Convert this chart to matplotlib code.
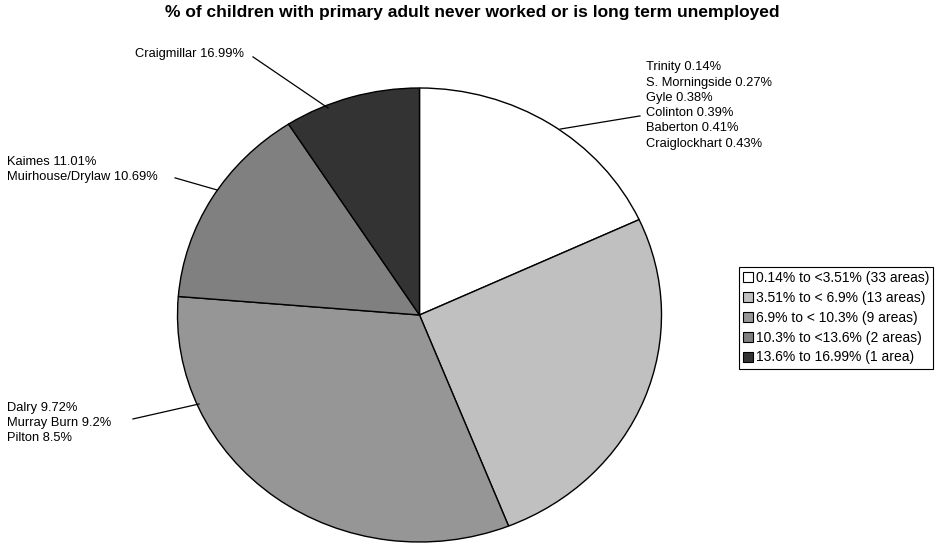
import matplotlib
matplotlib.use("Agg")
import matplotlib.pyplot as plt
from matplotlib.patches import Patch

plt.rcParams["font.family"] = ["Liberation Sans", "DejaVu Sans"]

# ── Data ────────────────────────────────────────────────────────
bands = [
    "0.14% to <3.51% (33 areas)",
    "3.51% to < 6.9% (13 areas)",
    "6.9% to < 10.3% (9 areas)",
    "10.3% to <13.6% (2 areas)",
    "13.6% to 16.99% (1 area)",
]
shares = [18.1, 25.9, 32.3, 14.6, 9.1]
colors = ["#ffffff", "#c0c0c0", "#969696", "#808080", "#333333"]

top_areas = ["Trinity 0.14%", "S. Morningside 0.27%", "Gyle 0.38%",
             "Colinton 0.39%", "Baberton 0.41%", "Craiglockhart 0.43%"]
mid_areas = ["Dalry 9.72%", "Murray Burn 9.2%", "Pilton 8.5%"]
high_areas = ["Kaimes 11.01%", "Muirhouse/Drylaw 10.69%"]
max_areas = ["Craigmillar 16.99%"]

# callouts: (lines, text anchor, leader start, leader end) in pie coords
callouts = [
    (top_areas, (0.936, 0.923), (0.581, 0.819), (0.911, 0.877)),
    (mid_areas, (-1.705, -0.476), (-1.184, -0.458), (-0.911, -0.392)),
    (high_areas, (-1.705, 0.641), (-1.010, 0.604), (-0.837, 0.551)),
    (max_areas, (-1.176, 1.150), (-0.688, 1.137), (-0.378, 0.912)),
]

W, H = 940, 547
fig = plt.figure(figsize=(W / 100, H / 100), dpi=100)

# pie is slightly flattened in the original, so axes aspect is left free
cx, cy, rx, ry = 419.5, 315, 242, 227
ax = fig.add_axes([(cx - rx) / W, (H - cy - ry) / H, 2 * rx / W, 2 * ry / H])
ax.pie(shares, colors=colors, startangle=90, counterclock=False,
       wedgeprops=dict(edgecolor="black", linewidth=1.0))
ax.set_aspect("auto")
ax.set_xlim(-1, 1)
ax.set_ylim(-1, 1)

for lines, (tx, ty), (x0, y0), (x1, y1) in callouts:
    ax.plot([x0, x1], [y0, y1], color="black", lw=0.9, clip_on=False)
    ax.text(tx, ty, "\n".join(lines), ha="left", va="center",
            fontsize=9.3, linespacing=1.36, clip_on=False)

fig.text(472 / W, 1 - 13 / H,
         "% of children with primary adult never worked or is long term unemployed",
         ha="center", va="center", fontsize=12.5, fontweight="bold")

handles = [Patch(facecolor=c, edgecolor="black", linewidth=0.8) for c in colors]
leg = fig.legend(handles, bands, loc="upper left",
                 bbox_to_anchor=(739 / W, 1 - 267 / H), borderaxespad=0,
                 fontsize=10, handlelength=0.7, handleheight=0.7,
                 handletextpad=0.2, labelspacing=0.42, borderpad=0.3,
                 fancybox=False, framealpha=1)
leg.get_frame().set_edgecolor("black")
leg.get_frame().set_linewidth(0.8)

fig.savefig("out.png", dpi=100)
